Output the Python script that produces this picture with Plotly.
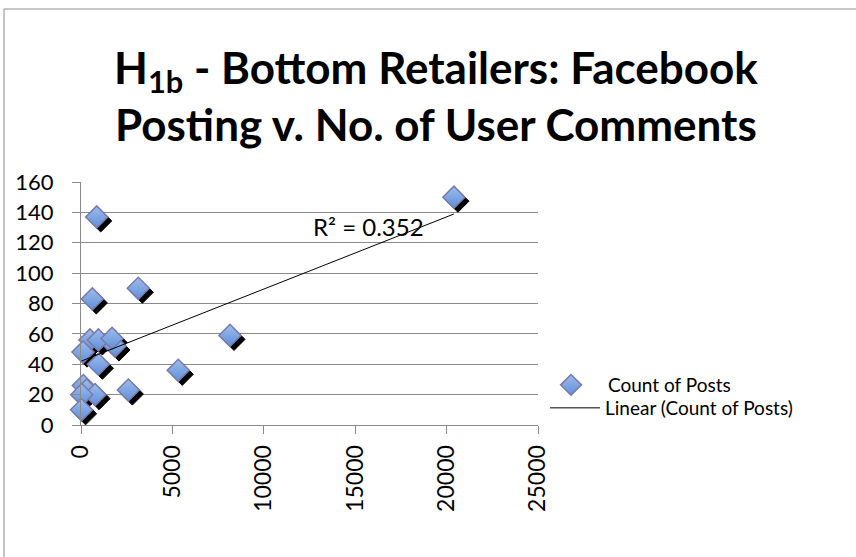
import plotly.graph_objects as go
import numpy as np

# Data
posts_x = [20400, 860, 3135, 620, 8150, 5320, 2590, 490, 950, 1860, 110, 950, 130, 310, 770, 40, 30, 1700]
comments_y = [150, 137, 90, 83, 59, 36, 23, 56, 56, 52, 48, 40, 26, 23, 20, 20, 10, 57]
y_ticks = [0, 20, 40, 60, 80, 100, 120, 140, 160]
x_ticks = [0, 5000, 10000, 15000, 20000, 25000]
series_name = "Count of Posts"
trend_name = "Linear (Count of Posts)"
r2_label = "R² = 0.352"

W, H = 856, 557
ML, MR, MT, MB = 81, 318, 182, 132
plot_w = W - ML - MR
plot_h = H - MT - MB
XR = [0, 25000]
YR = [0, 160]

# shadow shift in pixels converted into axis range offsets
sx = 4 * (XR[1] - XR[0]) / plot_w
sy = 4 * (YR[1] - YR[0]) / plot_h

# linear trendline
xa = np.array(posts_x, dtype=float)
ya = np.array(comments_y, dtype=float)
slope, intercept = np.polyfit(xa, ya, 1)
tx = np.array([xa.min(), xa.max()])
ty = slope * tx + intercept

font = "Lato, 'Open Sans', sans-serif"
grid = "#8a8a8a"

fig = go.Figure()

# shadow markers (base axes, shifted range)
fig.add_trace(go.Scatter(
    x=posts_x, y=comments_y, mode="markers", xaxis="x", yaxis="y",
    marker=dict(symbol="diamond", size=17, color="black", line=dict(width=1, color="black")),
    showlegend=False, hoverinfo="skip", cliponaxis=False))

# main markers
fig.add_trace(go.Scatter(
    x=posts_x, y=comments_y, mode="markers", xaxis="x2", yaxis="y2", name=series_name,
    legend="legend", cliponaxis=False,
    marker=dict(symbol="diamond", size=17, color="#9dbdee",
                gradient=dict(type="vertical", color="#5f8fd8"),
                line=dict(width=1.5, color="#7b7aa8"))))

# trendline
fig.add_trace(go.Scatter(
    x=tx, y=ty, mode="lines", xaxis="x2", yaxis="y2", name=trend_name,
    legend="legend2", cliponaxis=False,
    line=dict(color="black", width=1)))

fig.update_layout(
    width=W, height=H,
    margin=dict(l=ML, r=MR, t=MT, b=MB),
    paper_bgcolor="white", plot_bgcolor="white",
    font=dict(family=font, size=20, color="black"),
    xaxis=dict(range=[XR[0] - sx, XR[1] - sx], visible=False),
    yaxis=dict(range=[YR[0] + sy, YR[1] + sy], visible=False),
    xaxis2=dict(range=XR, overlaying="x", side="bottom", anchor="y2",
                tickvals=x_ticks, ticktext=[str(v) for v in x_ticks],
                tickangle=-90, ticks="outside", ticklen=8, tickcolor=grid,
                showgrid=False, showline=True, linecolor=grid, linewidth=1,
                zeroline=False, tickfont=dict(size=23), ticklabelstandoff=2),
    yaxis2=dict(range=YR, overlaying="y", side="left", anchor="x2",
                tickvals=y_ticks, ticks="outside", ticklen=8, tickcolor=grid,
                showgrid=True, gridcolor=grid, gridwidth=1,
                showline=True, linecolor=grid, linewidth=1, zeroline=False,
                tickfont=dict(size=22), ticklabelstandoff=14),
    showlegend=True,
    legend=dict(x=(534 - ML) / plot_w, y=(H - MB - 385) / plot_h, xanchor="left", yanchor="middle",
                font=dict(size=19), bgcolor="rgba(0,0,0,0)", itemwidth=64),
    legend2=dict(x=(545 - ML) / plot_w, y=(H - MB - 408) / plot_h, xanchor="left", yanchor="middle",
                 font=dict(size=19), bgcolor="rgba(0,0,0,0)", itemwidth=50),
)

# title as two annotation lines
fig.add_annotation(text="<b>H<sub>1b</sub> - Bottom Retailers: Facebook</b>",
                   xref="paper", yref="paper", x=(436 - ML) / plot_w, y=(H - MB - 70) / plot_h,
                   xanchor="center", yanchor="middle", showarrow=False,
                   font=dict(family=font, size=44, color="black"))
fig.add_annotation(text="<b>Posting v. No. of User Comments</b>",
                   xref="paper", yref="paper", x=(436 - ML) / plot_w, y=(H - MB - 124) / plot_h,
                   xanchor="center", yanchor="middle", showarrow=False,
                   font=dict(family=font, size=44, color="black"))

# R² label
fig.add_annotation(text=r2_label, xref="x2", yref="y2", x=12600, y=131,
                   xanchor="left", yanchor="middle", showarrow=False,
                   font=dict(family=font, size=24, color="black"))

# chart border
fig.add_shape(type="rect", xref="paper", yref="paper",
              x0=(4 - ML) / plot_w, x1=(W + 5 - ML) / plot_w,
              y0=-(H + 5 - (H - MB)) / plot_h, y1=(H - MB - 9) / plot_h,
              line=dict(color="#8c8c8c", width=1), fillcolor="rgba(0,0,0,0)", layer="below")

fig.write_html("out.html", config={"displayModeBar": False},
               post_script="document.body.style.margin='0';document.body.style.padding='0';")
